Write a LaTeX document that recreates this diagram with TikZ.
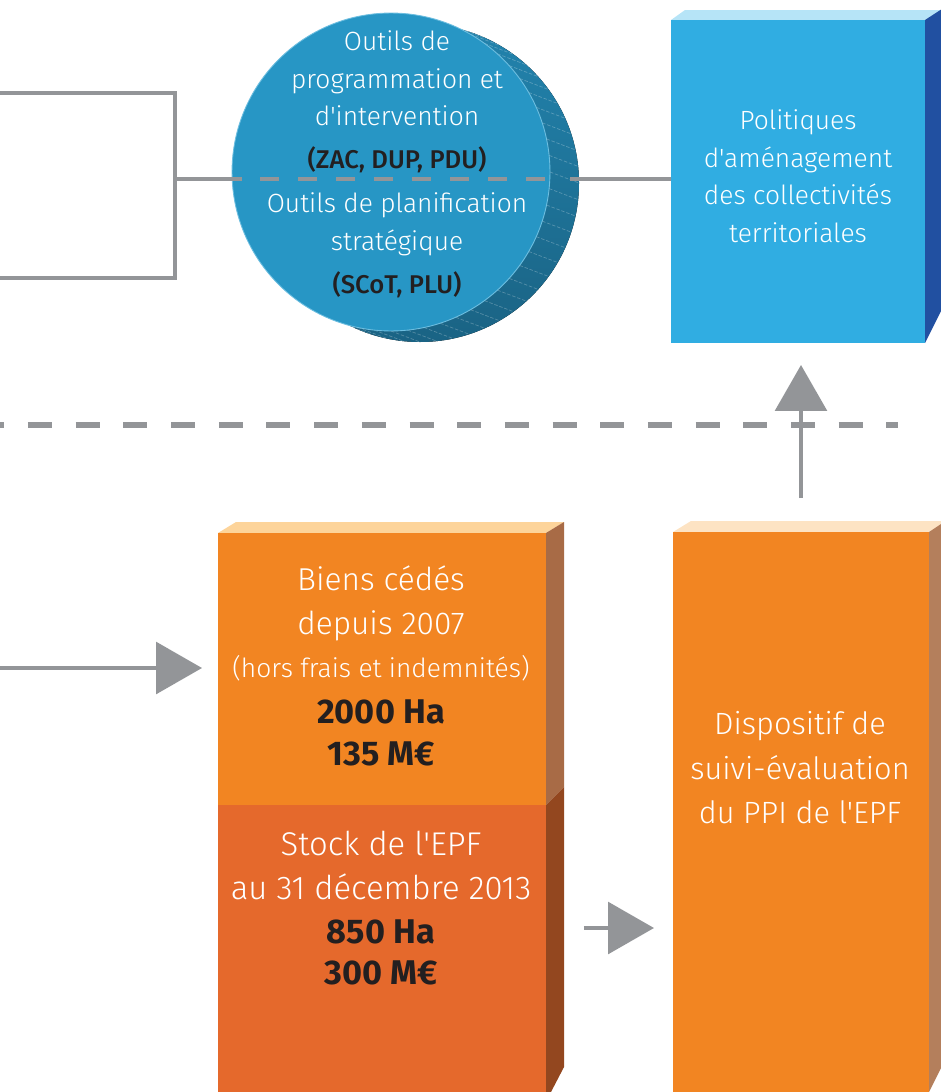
\documentclass[tikz,border=0pt]{standalone}
\usepackage{fontspec}
\usetikzlibrary{arrows.meta,calc}
\newfontfamily\ltf{Fira Sans Light}
\newfontfamily\mdf{Fira Sans Medium}
\newfontfamily\bdf{Fira Sans Bold}
\definecolor{gry}{HTML}{939598}
\definecolor{diskF}{HTML}{2796C5}
\definecolor{diskA}{HTML}{2283AD}
\definecolor{diskB}{HTML}{1A6384}
\definecolor{diskRim}{HTML}{6DBEE0}
\definecolor{blueFront}{HTML}{30ADE2}
\definecolor{blueTop}{HTML}{B6E4F7}
\definecolor{blueSide}{HTML}{2150A1}
\definecolor{orgFront}{HTML}{F28522}
\definecolor{biensTop}{HTML}{FDD49A}
\definecolor{biensSide}{HTML}{A86B46}
\definecolor{stockFront}{HTML}{E5692C}
\definecolor{stockSide}{HTML}{93471F}
\definecolor{dispTop}{HTML}{FDE3C3}
\definecolor{dispSide}{HTML}{B47F5C}
\definecolor{darkTxt}{HTML}{231F20}
\begin{document}
\begin{tikzpicture}[x=0.02cm,y=-0.02cm,
  gline/.style={draw=gry,line width=2.6pt},
  arr/.style={gline,-{Triangle[length=0.92cm,width=1.03cm]}},
  face/.style={inner sep=0pt,outer sep=0pt},
  lt/.style={text=white,anchor=base,inner sep=0pt,font=\ltf\fontsize{15}{18}\selectfont},
  ltbig/.style={lt,font=\ltf\fontsize{18}{21}\selectfont},
  ltstock/.style={lt,font=\ltf\fontsize{18.7}{21}\selectfont},
  ltdisp/.style={lt,font=\ltf\fontsize{17.5}{21}\selectfont},
  ltsmall/.style={lt,font=\ltf\fontsize{15}{18}\selectfont},
  md/.style={text=darkTxt,anchor=base,inner sep=0pt,font=\mdf\fontsize{14.6}{17}\selectfont},
  bd/.style={text=darkTxt,anchor=base,inner sep=0pt,font=\bdf\fontsize{19.5}{22}\selectfont}]
\useasboundingbox (0,0) rectangle (940,1092);

% ---------- disk (cylinder) ----------
\fill[top color=diskA,bottom color=diskB] (420,183) circle[radius=159];
\foreach \a in {-84,-78,...,162}
  \draw[white,opacity=.25,line width=.4pt,dash pattern=on 2pt off 1pt]
    ($(391,172)+(\a:159)$) -- ++(29,11);
\node[circle,fill=diskF,draw=diskRim,line width=.5pt,minimum size=6.36cm,inner sep=0pt] (c) at (391,172) {};

% ---------- blue box ----------
\fill[blueTop] (671,20) -- (685,10) -- (945,10) -- (925,20) -- cycle;
\fill[blueSide] (925,20) -- (945,7) -- (945,303) -- (925,343) -- cycle;
\node[face,fill=blueFront,minimum width=5.08cm,minimum height=6.46cm] (pol) at (798,181.5) {};

% ---------- orange boxes ----------
\fill[biensTop] (218,533) -- (236,522) -- (564,522) -- (546,533) -- cycle;
\fill[biensSide] (546,533) -- (564,522) -- (564,787) -- (546,805) -- cycle;
\fill[stockSide] (546,805) -- (564,787) -- (564,1067) -- (551,1092) -- (546,1092) -- cycle;
\node[face,fill=orgFront,minimum width=6.56cm,minimum height=5.44cm] (biens) at (382,669) {};
\node[face,fill=stockFront,minimum width=6.56cm,minimum height=5.74cm] (stock) at (382,948.5) {};

\fill[dispTop] (673,532) -- (691,521) -- (950,521) -- (929,532) -- cycle;
\fill[dispSide] (929,532) -- (950,518) -- (950,1050) -- (929,1092) -- cycle;
\node[face,fill=orgFront,minimum width=5.12cm,minimum height=11.2cm] (disp) at (801,812) {};

% ---------- bracket and connectors ----------
\coordinate (bt) at (-5,93);
\coordinate (bb) at (-5,278);
\coordinate (bm) at (175,179);
\draw[gline,line width=2.3pt] (bt) -- (175,93) -- (175,278) -- (bb);
\draw[gline] (bm) -- (bm -| c.west) -- ++(10,0);
\draw[gline,dash pattern=on 0.38cm off 0.38cm] (260,179) -- (551,179);
\draw[gline] (570,179) -- (bm -| pol.west);

% long dashed separator
\draw[draw=gry,line width=3pt,dash pattern=on 0.48cm off 0.474cm] (-19.7,425) -- (898,425);

% arrows
\coordinate (lin) at (-5,668);
\draw[arr,shorten >=0.32cm] (lin) -- (lin -| biens.west);
\coordinate (sy) at (0,928);
\draw[arr,shorten <=0.76cm,shorten >=0.38cm] (stock.east |- sy) -- (disp.west |- sy);
\draw[arr,shorten <=0.68cm,shorten >=0.44cm] (disp.north) -- (disp.north |- pol.south);

% ---------- texts ----------
\node[lt] (c1) at (397,51) {Outils de};
\node[lt] (c2) at (397,88) {programmation et};
\node[lt] (c3) at (397,125) {d'intervention};
\node[md] (c4) at (397,168) {(ZAC, DUP, PDU)};
\node[lt] (c5) at (397,212) {Outils de planification};
\node[lt] (c6) at (397,250) {stratégique};
\node[md] (c7) at (397,293) {(SCoT, PLU)};

\node[lt] (p1) at (798,129) {Politiques};
\node[lt] (p2) at (798,167) {d'aménagement};
\node[lt] (p3) at (798,204) {des collectivités};
\node[lt] (p4) at (798,242) {territoriales};

\node[ltbig] (b1) at (381,590) {Biens cédés};
\node[ltbig] (b2) at (381,634) {depuis 2007};
\node[ltsmall] (b3) at (381,677) {(hors frais et indemnités)};
\node[bd] (b4) at (381,723) {2000 Ha};
\node[bd] (b5) at (381,765) {135 M€};

\node[ltstock] (s1) at (381,855) {Stock de l'EPF};
\node[ltstock] (s2) at (381,899) {au 31 décembre 2013};
\node[bd] (s3) at (381,943) {850 Ha};
\node[bd] (s4) at (381,984) {300 M€};

\node[ltdisp] (d1) at (800,734) {Dispositif de};
\node[ltdisp] (d2) at (800,779) {suivi-évaluation};
\node[ltdisp] (d3) at (800,823) {du PPI de l'EPF};
\end{tikzpicture}
\end{document}
